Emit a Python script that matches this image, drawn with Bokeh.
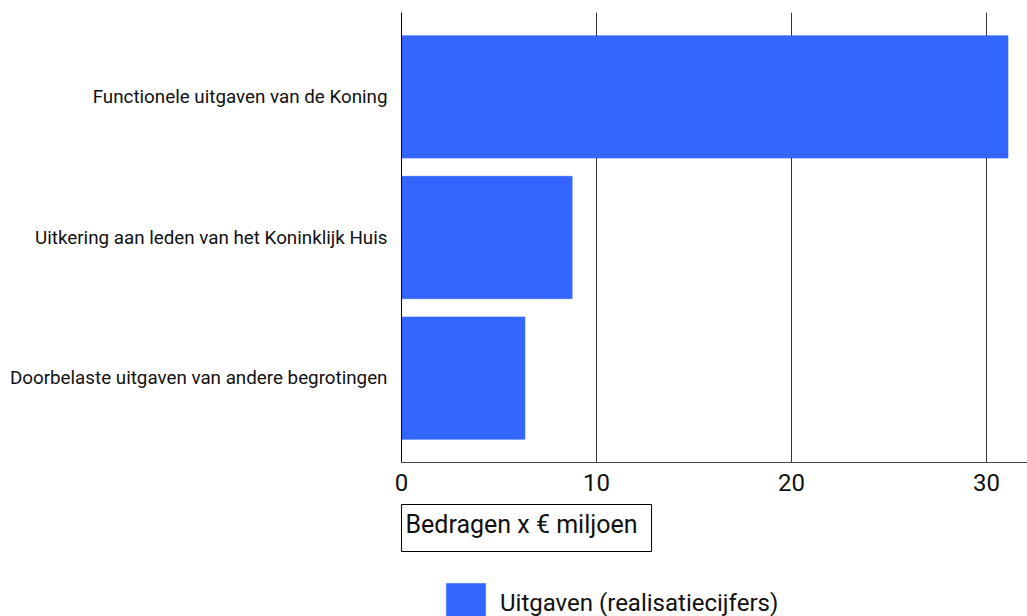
from bokeh.plotting import figure
from bokeh.layouts import column
from bokeh.models import (FactorRange, Range1d, FixedTicker, Title, Legend, LegendItem,
                          ColumnDataSource)
from bokeh.embed import file_html
from bokeh.resources import INLINE

categories = [
    "Functionele uitgaven van de Koning",
    "Uitkering aan leden van het Koninklijk Huis",
    "Doorbelaste uitgaven van andere begrotingen",
]
uitgaven = [31.1, 8.75, 6.33]
x_ticks = [0, 10, 20, 30]
series_name = "Uitgaven (realisatiecijfers)"
axis_title = "Bedragen x € miljoen"

FONT = "Roboto"
BAR = "#3366ff"

src = ColumnDataSource(dict(cat=categories, val=uitgaven))

p = figure(
    width=1027, height=570,
    y_range=FactorRange(*list(reversed(categories)), range_padding=0.1,
                        range_padding_units="absolute"),
    x_range=Range1d(0, 32.1),
    output_backend="svg", toolbar_location=None,
    min_border_left=401, min_border_right=0, min_border_top=12, min_border_bottom=108,
)
p.outline_line_color = None
p.background_fill_color = "white"

r = p.hbar(y="cat", right="val", left=0, height=0.87, source=src,
           fill_color=BAR, line_color=BAR, line_alpha=0.6)

# grid
p.ygrid.grid_line_color = None
p.xgrid.ticker = FixedTicker(ticks=x_ticks)
p.xgrid.grid_line_color = "#333333"
p.xgrid.grid_line_width = 1

# x axis
xa = p.xaxis[0]
xa.ticker = FixedTicker(ticks=x_ticks)
xa.axis_line_color = "#444444"
xa.major_tick_line_color = None
xa.minor_tick_line_color = None
xa.major_tick_out = 0
xa.major_tick_in = 0
xa.major_label_standoff = 11
xa.major_label_text_font = FONT
xa.major_label_text_font_size = "24px"
xa.major_label_text_color = "#111111"

# y axis
ya = p.yaxis[0]
ya.axis_line_color = "#000000"
ya.major_tick_line_color = None
ya.minor_tick_line_color = None
ya.major_tick_out = 0
ya.major_tick_in = 0
ya.major_label_standoff = 14
ya.major_label_text_font = FONT
ya.major_label_text_font_size = "18.8px"
ya.major_label_text_color = "#111111"

# axis title in a box (below panel)
ttl = Title(text=axis_title, align="left", text_font=FONT, text_font_size="25px",
            text_font_style="normal", text_color="#111111",
            border_line_color="black", border_line_width=1,
            background_fill_color="white", padding=(4, 14, 5, 13), standoff=18, offset=0)
p.add_layout(ttl, "below")

# legend strip
q = figure(
    width=1027, height=46, x_range=Range1d(-1001, -1000),
    y_range=FactorRange(*categories),
    output_backend="svg", toolbar_location=None,
    min_border_left=0, min_border_right=0, min_border_top=0, min_border_bottom=0,
    x_axis_type=None, y_axis_type=None,
)
q.outline_line_color = None
q.xgrid.visible = False
q.ygrid.visible = False
r2 = q.hbar(y="cat", right="val", left=0, height=0.87, source=src,
            fill_color=BAR, line_color=BAR, line_alpha=0.6)

legend = Legend(items=[LegendItem(label=series_name, renderers=[r2])],
                location=(40, -11), orientation="horizontal",
                glyph_width=49, glyph_height=49, label_standoff=10,
                padding=0, margin=0, border_line_color=None,
                background_fill_alpha=0,
                label_text_font=FONT, label_text_font_size="24px",
                label_text_color="#111111")
q.add_layout(legend, "center")

layout = column(p, q, spacing=0)
open("out.html", "w").write(file_html(layout, INLINE))
